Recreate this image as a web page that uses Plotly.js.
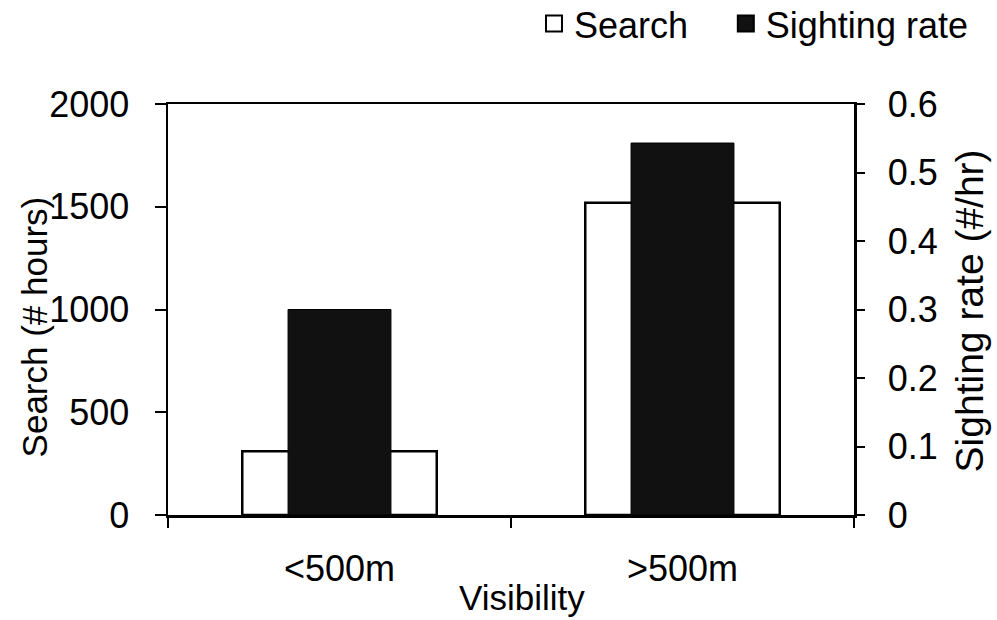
<!DOCTYPE html>
<html>
<head>
<meta charset="utf-8">
<script src="https://cdn.plot.ly/plotly-3.0.1.min.js"></script>
<style>html,body{margin:0;padding:0;background:#fff;}#chart{width:997px;height:620px;}</style>
</head>
<body>
<div id="chart"></div>
<script>
const categories = ['<500m', '>500m'];
const searchHours = [310, 1520];
const sightingRate = [0.30, 0.543];
const leftTicks = [0, 500, 1000, 1500, 2000];
const rightTicks = [0, 0.1, 0.2, 0.3, 0.4, 0.5, 0.6];
const seriesNames = ['Search', 'Sighting rate'];
const xTitle = 'Visibility';
const yTitle = 'Search (# hours)';
const y2Title = 'Sighting rate (#/hr)';

const FONT = '"Liberation Sans", Arial, Helvetica, sans-serif';
const FS = 36;
const SIGHT_COLOR = '#111111';

const traces = [
  {
    type: 'bar', name: seriesNames[0], x: categories, y: searchHours,
    width: 0.567, yaxis: 'y', showlegend: false,
    marker: {color: '#ffffff', line: {color: '#000000', width: 2.5}},
    hoverinfo: 'skip'
  },
  {
    type: 'bar', name: seriesNames[1], x: categories, y: sightingRate,
    width: 0.3, yaxis: 'y2', showlegend: false,
    marker: {color: SIGHT_COLOR, line: {color: '#000000', width: 1}},
    hoverinfo: 'skip'
  },
  // legend proxies (no visible points)
  {
    type: 'scatter', mode: 'markers', name: seriesNames[0], x: categories, y: [null, null],
    yaxis: 'y', showlegend: true, legend: 'legend',
    marker: {symbol: 'square', size: 16, color: '#ffffff', line: {color: '#000000', width: 2}},
    hoverinfo: 'skip'
  },
  {
    type: 'scatter', mode: 'markers', name: seriesNames[1], x: categories, y: [null, null],
    yaxis: 'y', showlegend: true, legend: 'legend2',
    marker: {symbol: 'square', size: 16, color: SIGHT_COLOR, line: {color: '#000000', width: 2}},
    hoverinfo: 'skip'
  }
];

const legendBase = {
  orientation: 'h', xref: 'container', yref: 'container',
  xanchor: 'left', y: 0.962, yanchor: 'middle',
  font: {family: FONT, size: FS, color: '#000'}, bgcolor: 'rgba(0,0,0,0)',
  itemsizing: 'trace', itemwidth: 30
};

const layout = {
  width: 997, height: 620,
  margin: {l: 168, r: 143, t: 104, b: 105, pad: 0},
  paper_bgcolor: '#ffffff', plot_bgcolor: '#ffffff',
  font: {family: FONT, size: FS, color: '#000000'},
  barmode: 'overlay',
  showlegend: true,
  legend: Object.assign({}, legendBase, {x: 0.5356}),
  legend2: Object.assign({}, legendBase, {x: 0.728}),
  xaxis: {
    type: 'category', showline: true, linecolor: '#000', linewidth: 2.5, mirror: true,
    ticks: 'outside', tickson: 'boundaries', ticklen: 10, tickwidth: 2, tickcolor: '#000',
    showgrid: false, zeroline: false, ticklabelstandoff: 20,
    tickfont: {family: FONT, size: FS},
    automargin: false, fixedrange: true
  },
  yaxis: {
    range: [0, 2000], tickvals: leftTicks, ticktext: leftTicks.map(String),
    showline: true, linecolor: '#000', linewidth: 2.5,
    ticks: 'outside', ticklen: 11, tickwidth: 2, tickcolor: '#000',
    showgrid: false, zeroline: false, ticklabelstandoff: 18,
    tickfont: {family: FONT, size: FS},
    automargin: false, fixedrange: true
  },
  yaxis2: {
    range: [0, 0.6], tickvals: rightTicks, ticktext: rightTicks.map(v => String(v)),
    overlaying: 'y', side: 'right',
    showline: true, linecolor: '#000', linewidth: 2.5,
    ticks: 'outside', ticklen: 8, tickwidth: 2, tickcolor: '#000',
    showgrid: false, zeroline: false, ticklabelstandoff: 16,
    tickfont: {family: FONT, size: FS},
    automargin: false, fixedrange: true
  },
  annotations: [
    {text: xTitle, xref: 'paper', yref: 'paper', x: 0.516, y: -0.2, xanchor: 'center', yanchor: 'middle',
     showarrow: false, font: {family: FONT, size: 35, color: '#000'}},
    {text: yTitle, xref: 'paper', yref: 'paper', x: -0.195, y: 0.457, xanchor: 'center', yanchor: 'middle',
     textangle: -90, showarrow: false, font: {family: FONT, size: 35, color: '#000'}},
    {text: y2Title, xref: 'paper', yref: 'paper', x: 1.168, y: 0.496, xanchor: 'center', yanchor: 'middle',
     textangle: -90, showarrow: false, font: {family: FONT, size: 39, color: '#000'}}
  ]
};

Plotly.newPlot('chart', traces, layout, {displayModeBar: false, staticPlot: true});
</script>
</body>
</html>
